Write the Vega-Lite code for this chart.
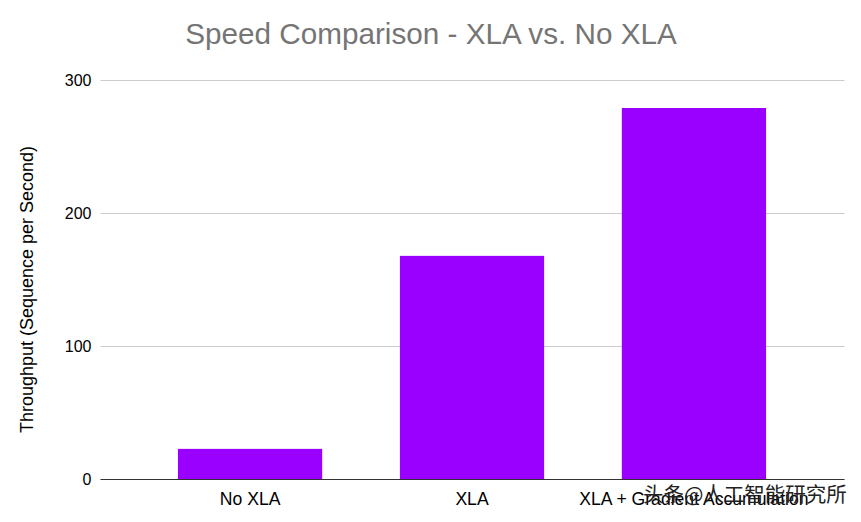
{
  "$schema": "https://vega.github.io/schema/vega-lite/v6.json",
  "autosize": "none",
  "width": 744,
  "height": 399,
  "padding": {"left": 100, "top": 80, "right": 17, "bottom": 43},
  "background": "white",
  "title": {
    "text": "Speed Comparison - XLA vs. No XLA",
    "font": "Liberation Sans",
    "fontSize": 29.7,
    "fontWeight": "normal",
    "color": "#757575",
    "anchor": "middle",
    "dx": -41,
    "offset": 21
  },
  "config": {"view": {"stroke": null}},
  "data": {
    "values": [
      {"mode": "No XLA", "throughput": 23},
      {"mode": "XLA", "throughput": 168},
      {"mode": "XLA + Gradient Accumulation", "throughput": 279}
    ]
  },
  "layer": [
    {
      "mark": {"type": "bar", "color": "#9900ff", "cornerRadiusTopLeft": 1, "cornerRadiusTopRight": 1},
      "encoding": {
        "x": {
          "field": "mode",
          "type": "nominal",
          "sort": null,
          "title": null,
          "scale": {"paddingInner": 0.347, "paddingOuter": 0.35},
          "axis": {
            "labelAngle": 0,
            "labelFont": "Liberation Sans",
            "labelFontSize": 17.6,
            "labelColor": "#000000",
            "labelPadding": 11,
            "ticks": false,
            "domainColor": "#333333",
            "domainWidth": 1,
            "labelOverlap": false,
            "labelLimit": 400
          }
        },
        "y": {
          "field": "throughput",
          "type": "quantitative",
          "title": "Throughput (Sequence per Second)",
          "scale": {"domain": [0, 300]},
          "axis": {
            "values": [0, 100, 200, 300],
            "labelFont": "Liberation Sans",
            "labelFontSize": 16,
            "labelColor": "#000000",
            "labelPadding": 9,
            "ticks": false,
            "domain": false,
            "gridColor": "#cccccc",
            "titleFont": "Liberation Sans",
            "titleFontSize": 18,
            "titleFontWeight": "normal",
            "titleColor": "#000000",
            "titleX": -73,
            "titleY": 209,
            "titleAnchor": "middle",
            "titleBaseline": "middle"
          }
        }
      }
    },
    {
      "data": {"values": [{"mode": "XLA + Gradient Accumulation", "label": "头条@人工智能研究所"}]},
      "mark": {
        "type": "text",
        "font": "Noto Sans CJK SC",
        "fontSize": 20.5,
        "color": "#222222",
        "align": "center",
        "baseline": "middle",
        "dx": 51,
        "dy": 17
      },
      "encoding": {
        "x": {"field": "mode", "type": "nominal", "sort": null},
        "y": {"datum": 0},
        "text": {"field": "label"}
      }
    }
  ]
}
